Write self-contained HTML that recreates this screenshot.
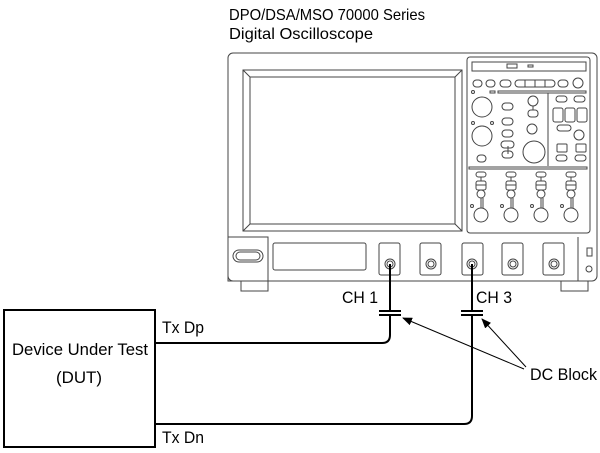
<!DOCTYPE html>
<html><head><style>
body{margin:0;background:#fff;}
svg{display:block;font-family:"Liberation Sans",Arial,sans-serif;}
</style></head><body>
<svg width="600" height="453" viewBox="0 0 600 453" xmlns="http://www.w3.org/2000/svg">
<defs><marker id="ah" markerWidth="10" markerHeight="8" refX="9" refY="4" orient="auto" markerUnits="userSpaceOnUse"><path d="M0,0 L10,4 L0,8 z" fill="#000"/></marker></defs>
<text x="229" y="20" font-size="16" fill="#000" textLength="196" lengthAdjust="spacingAndGlyphs">DPO/DSA/MSO 70000 Series</text>
<text x="229" y="39" font-size="16" fill="#000" textLength="144" lengthAdjust="spacingAndGlyphs">Digital Oscilloscope</text>
<g fill="none" stroke="#444" stroke-width="1">
<rect x="228" y="53" width="369" height="228" rx="5"/>
<rect x="243" y="70" width="219" height="161"/>
<rect x="250" y="77" width="205" height="147"/>
<line x1="243" y1="70" x2="250" y2="77"/><line x1="462" y1="70" x2="455" y2="77"/>
<line x1="243" y1="231" x2="250" y2="224"/><line x1="462" y1="231" x2="455" y2="224"/>
<rect x="467" y="57" width="123" height="176" rx="3"/>
<rect x="472" y="62" width="114" height="9"/>
<rect x="507" y="64" width="10" height="4"/><rect x="528" y="65" width="5" height="2"/>
<rect x="473" y="80" width="9" height="7" rx="3.5"/><rect x="486" y="80" width="9" height="7" rx="3.5"/>
<rect x="500" y="80" width="11" height="7" rx="3.5"/><rect x="515" y="80" width="40" height="7" rx="3.5"/>
<line x1="525" y1="80" x2="525" y2="87"/><line x1="535" y1="80" x2="535" y2="87"/><line x1="545" y1="80" x2="545" y2="87"/>
<rect x="558" y="80" width="10" height="7" rx="3.5"/><circle cx="578" cy="83" r="5"/>
<rect x="498" y="91" width="88" height="2"/>
<line x1="548" y1="93" x2="548" y2="166"/>
<circle cx="473" cy="92" r="1.5"/><rect x="490" y="91" width="5" height="2"/>
<circle cx="482" cy="107" r="10"/><circle cx="482" cy="136" r="10"/>
<circle cx="473" cy="123" r="1.5"/><circle cx="492" cy="123" r="1.5"/>
<rect x="477" y="155" width="9" height="7" rx="3.5"/>
<rect x="502" y="103" width="11" height="7" rx="3.5"/><rect x="502" y="118" width="11" height="7" rx="3.5"/>
<rect x="502" y="130" width="11" height="7" rx="3.5"/><rect x="501" y="141" width="13" height="7" rx="3.5"/><rect x="502" y="151" width="11" height="7" rx="3.5"/>
<line x1="508" y1="146" x2="508" y2="154"/>
<circle cx="533" cy="101" r="5"/><rect x="528" y="110" width="10" height="7" rx="3"/><line x1="533" y1="106" x2="533" y2="110"/>
<circle cx="532" cy="129" r="5"/>
<circle cx="534" cy="152" r="11"/>
<rect x="556" y="96" width="11" height="6" rx="3"/><rect x="574" y="96" width="11" height="6" rx="3"/>
<rect x="553" y="108" width="10" height="14" rx="2"/><rect x="565" y="108" width="10" height="14" rx="2"/><rect x="577" y="108" width="10" height="14" rx="2"/>
<rect x="557" y="125" width="14" height="6" rx="3"/>
<circle cx="579" cy="135" r="5"/>
<rect x="557" y="144" width="10" height="8" rx="1"/><rect x="576" y="144" width="10" height="8" rx="1"/>
<rect x="556" y="155" width="11" height="6" rx="3"/><rect x="575" y="155" width="11" height="6" rx="3"/>
<rect x="469" y="167" width="118" height="2"/>
<g id="ch">
<rect x="476" y="172" width="10" height="5" rx="2.5"/><line x1="481" y1="177" x2="481" y2="181"/>
<rect x="476" y="181" width="10" height="9" rx="2"/><line x1="476" y1="185" x2="486" y2="185"/>
<circle cx="481" cy="194" r="4"/><line x1="481" y1="198" x2="481" y2="208"/><line x1="483" y1="198" x2="483" y2="208"/>
<circle cx="472" cy="206" r="1.5"/><circle cx="481" cy="215" r="7"/>
</g>
<use href="#ch" x="30"/><use href="#ch" x="60"/><use href="#ch" x="90"/>
<rect x="228" y="237" width="40" height="44"/>
<rect x="233" y="250" width="30" height="12" rx="6"/><rect x="236" y="252" width="24" height="8" rx="4"/>
<rect x="273" y="243" width="93" height="27" rx="2"/>
<rect x="379" y="243" width="21" height="32" rx="2"/><circle cx="390" cy="264" r="5"/><circle cx="390" cy="264" r="3"/>
<rect x="420" y="243" width="21" height="32" rx="2"/><circle cx="431" cy="264" r="5"/><circle cx="431" cy="264" r="3"/>
<rect x="462" y="243" width="21" height="32" rx="2"/><circle cx="472" cy="264" r="5"/><circle cx="472" cy="264" r="3"/>
<rect x="502" y="243" width="21" height="32" rx="2"/><circle cx="513" cy="264" r="5"/><circle cx="513" cy="264" r="3"/>
<rect x="543" y="243" width="21" height="32" rx="2"/><circle cx="554" cy="264" r="5"/><circle cx="554" cy="264" r="3"/>
<line x1="578" y1="237" x2="578" y2="281"/>
<rect x="587" y="248" width="5" height="8"/><circle cx="589" cy="269" r="3"/>
<path d="M241 281 V291 H268 V281"/><path d="M561 281 V291 H588 V281"/>
</g>
<g fill="none" stroke="#000" stroke-width="2">
<rect x="4" y="310" width="151" height="137"/>
<path d="M390 264 V311 M390 315 V335 Q390 343 382 343 H155"/>
<path d="M472 264 V311 M472 315 V416 Q472 424 464 424 H155"/>
<line x1="379" y1="311" x2="401" y2="311"/><line x1="379" y1="315" x2="401" y2="315"/>
<line x1="461" y1="311" x2="483" y2="311"/><line x1="461" y1="315" x2="483" y2="315"/>
</g>
<g stroke="#000" stroke-width="1">
<line x1="524" y1="369" x2="403" y2="318" marker-end="url(#ah)"/>
<line x1="526" y1="367" x2="482" y2="319" marker-end="url(#ah)"/>
</g>
<g font-size="17" fill="#000">
<text x="342" y="303" textLength="36" lengthAdjust="spacingAndGlyphs">CH 1</text>
<text x="476" y="303" textLength="36" lengthAdjust="spacingAndGlyphs">CH 3</text>
<text x="162" y="333" textLength="42" lengthAdjust="spacingAndGlyphs">Tx Dp</text>
<text x="162" y="443" textLength="42" lengthAdjust="spacingAndGlyphs">Tx Dn</text>
<text x="530" y="380" textLength="67" lengthAdjust="spacingAndGlyphs">DC Block</text>
<text x="12" y="355" textLength="136" lengthAdjust="spacingAndGlyphs">Device Under Test</text>
<text x="56" y="383" textLength="46" lengthAdjust="spacingAndGlyphs">(DUT)</text>
</g>
</svg>
</body></html>
